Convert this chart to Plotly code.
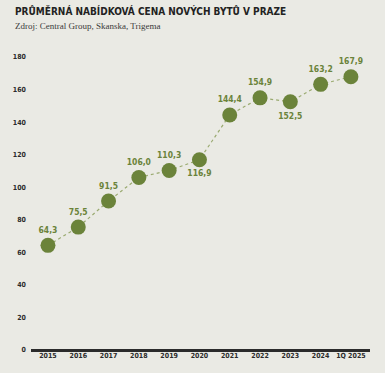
import plotly.graph_objects as go

categories = ["2015", "2016", "2017", "2018", "2019", "2020", "2021", "2022", "2023", "2024", "1Q 2025"]
values = [64.3, 75.5, 91.5, 106.0, 110.3, 116.9, 144.4, 154.9, 152.5, 163.2, 167.9]
value_labels = ["64,3", "75,5", "91,5", "106,0", "110,3", "116,9", "144,4", "154,9", "152,5", "163,2", "167,9"]
label_pos = ["top center"] * 5 + ["bottom center"] + ["top center"] * 2 + ["bottom center"] + ["top center"] * 2
y_ticks = [0, 20, 40, 60, 80, 100, 120, 140, 160, 180]

BG = "#eaeae4"
GREEN = "#6b833a"
COND = "DejaVu Sans Condensed, sans-serif"

x_idx = list(range(len(categories)))

fig = go.Figure()
fig.add_trace(go.Scatter(
    x=x_idx, y=values,
    mode="lines",
    line=dict(color="#9aaa70", width=1.2, dash="dot"),
    hoverinfo="skip",
    cliponaxis=False,
))
fig.add_trace(go.Scatter(
    x=x_idx, y=values,
    mode="markers+text",
    marker=dict(color=GREEN, size=15),
    text=value_labels,
    textposition=label_pos,
    textfont=dict(family=COND, size=8.5, color=GREEN, weight="bold"),
    cliponaxis=False,
))

fig.update_layout(
    width=385, height=373,
    paper_bgcolor=BG, plot_bgcolor=BG,
    margin=dict(l=31, r=15, t=57, b=23),
    showlegend=False,
    title=None,
    annotations=[
        dict(text="<b>PRŮMĚRNÁ NABÍDKOVÁ CENA NOVÝCH BYTŮ V PRAZE</b>", xref="paper", yref="paper",
             x=-18/339, y=1 + 46/293, xanchor="left", yanchor="middle", showarrow=False,
             font=dict(family=COND, size=10, color="#222222")),
        dict(text="Zdroj: Central Group, Skanska, Trigema", xref="paper", yref="paper",
             x=-18/339, y=1 + 31/293, xanchor="left", yanchor="middle", showarrow=False,
             font=dict(family="Liberation Serif, serif", size=9, color="#3a3a3a")),
    ],
)
fig.update_xaxes(
    range=[-0.56, 10.63], automargin=False,
    tickmode="array", tickvals=x_idx, ticktext=categories,
    showgrid=False, zeroline=False, showline=False,
    tickfont=dict(family=COND, size=7, color="#2b2b2b", weight="bold"),
    ticks="", ticklabelstandoff=0,
)
fig.update_yaxes(
    range=[0, 180], automargin=False,
    tickmode="array", tickvals=y_ticks, ticktext=[str(v) for v in y_ticks],
    showgrid=False, zeroline=True, zerolinecolor="#2b2b2b", zerolinewidth=3,
    showline=False,
    tickfont=dict(family=COND, size=7, color="#2b2b2b", weight="bold"),
    ticks="", ticklabelstandoff=4,
)

fig.write_html("out.html", config={"displayModeBar": False},
               post_script="document.body.style.margin='0';document.body.style.background='#eaeae4';")
